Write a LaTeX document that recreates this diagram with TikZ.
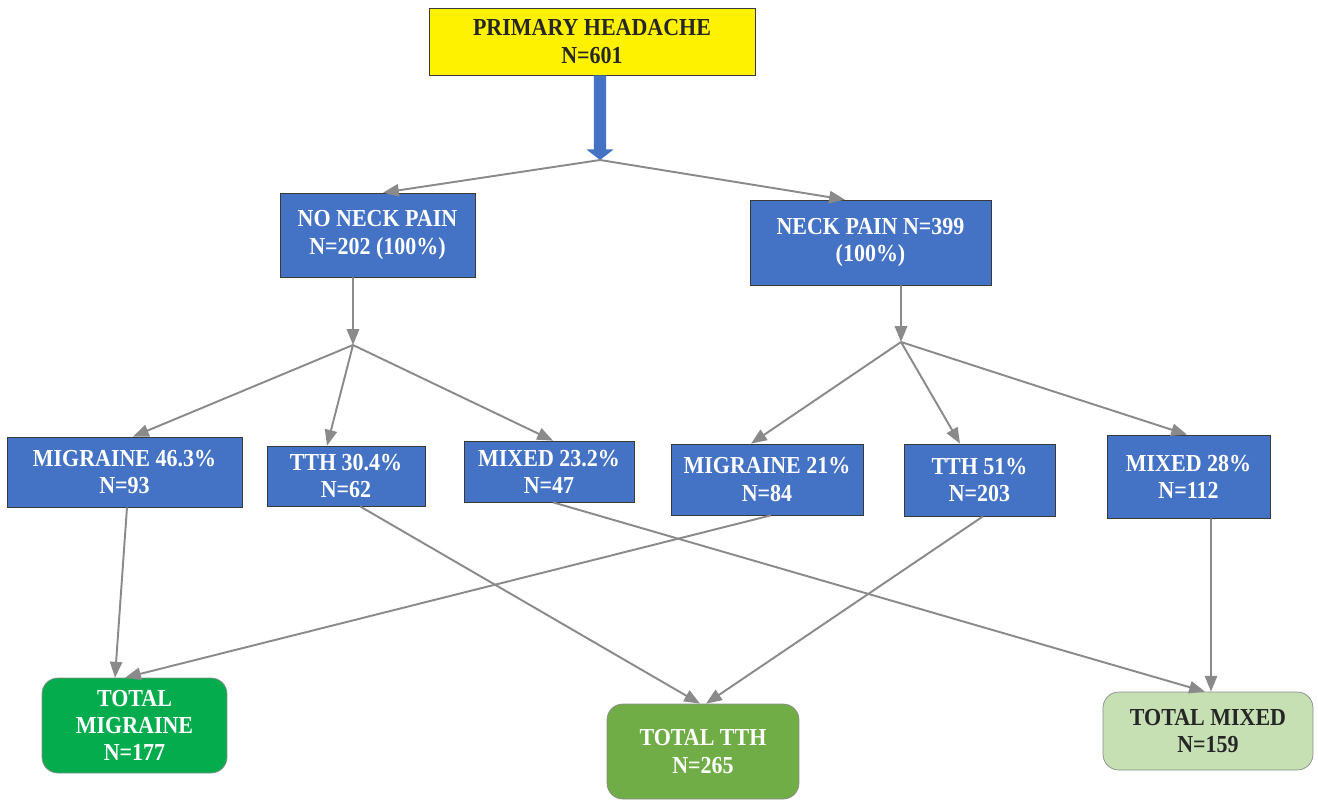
\documentclass[tikz,border=0pt]{standalone}
\usepackage{fontspec}
\setmainfont{Liberation Serif}[FakeStretch=0.9]
\usetikzlibrary{arrows.meta}

\definecolor{boxblue}{HTML}{4472C4}
\definecolor{headyellow}{HTML}{FFF200}
\definecolor{migreen}{HTML}{05AC4E}
\definecolor{tthgreen}{HTML}{70AD47}
\definecolor{mixgreen}{HTML}{C6E0B4}
\definecolor{linkgray}{HTML}{8A8A8A}
\definecolor{edgegray}{HTML}{3A3A3A}

\tikzset{
	box/.style={draw=edgegray,fill=boxblue,text=white,align=center,inner sep=2pt,
		font=\bfseries\fontsize{13.9}{15.4}\selectfont},
	total/.style={box,rounded corners=9pt,draw=linkgray},
	link/.style={linkgray,line width=1.1pt,-{Triangle[length=9pt,width=7pt]}}
}

\begin{document}
\begin{tikzpicture}[x=0.02cm,y=-0.02cm]

	\useasboundingbox (0,0) rectangle (1318,799);

	% top
	\node[box,fill=headyellow,text=black!85,minimum width=6.52cm,minimum height=1.34cm] (primary) at (592,41.5) {PRIMARY HEADACHE\\N=601};

	% neck pain or not
	\node[box,minimum width=3.9cm,minimum height=1.68cm] (nopain) at (377.5,235) {NO NECK PAIN\\N=202 (100\%)};
	\node[box,minimum width=4.82cm,minimum height=1.7cm] (pain) at (870.5,242.5) {NECK PAIN N=399\\(100\%)};

	% sub groups
	\node[box,minimum width=4.7cm,minimum height=1.4cm] (mig1) at (124.5,472) {MIGRAINE 46.3\%\\N=93};
	\node[box,minimum width=3.16cm,minimum height=1.2cm] (tth1) at (346,476) {TTH 30.4\%\\N=62};
	\node[box,minimum width=3.4cm,minimum height=1.22cm] (mix1) at (549,471.5) {MIXED 23.2\%\\N=47};
	\node[box,minimum width=3.84cm,minimum height=1.42cm] (mig2) at (767,479.5) {MIGRAINE 21\%\\N=84};
	\node[box,minimum width=3.02cm,minimum height=1.44cm] (tth2) at (979.5,480) {TTH 51\%\\N=203};
	\node[box,minimum width=3.26cm,minimum height=1.66cm] (mix2) at (1188.5,476.5) {MIXED 28\%\\N=112};

	% totals
	\node[total,fill=migreen,minimum width=3.7cm,minimum height=1.9cm] (totmig) at (134.5,725.5) {TOTAL\\MIGRAINE\\N=177};
	\node[total,fill=tthgreen,minimum width=3.84cm,minimum height=1.9cm] (tottth) at (703,751.5) {TOTAL TTH\\N=265};
	\node[total,fill=mixgreen,text=black!85,minimum width=4.2cm,minimum height=1.56cm] (totmix) at (1208,731) {TOTAL MIXED\\N=159};

	\coordinate (split0) at (600,160);
	\coordinate (split1) at (353,345);
	\coordinate (split2) at (901,342);

	\draw[boxblue,line width=7pt,-{Triangle[length=6pt,width=15pt]}] ([xshift=0.16cm]primary.south) -- (split0);
	\draw[link] (split0) -- ([xshift=0.11cm]nopain.north);
	\draw[link] (split0) -- ([xshift=-0.51cm]pain.north);

	\draw[link] ([xshift=-0.49cm]nopain.south) -- (split1);
	\draw[link] (split1) -- ([xshift=0.17cm]mig1.north);
	\draw[link] (split1) -- ([xshift=-0.38cm]tth1.north);
	\draw[link] (split1) -- ([xshift=0.08cm]mix1.north);

	\draw[link] ([xshift=0.61cm]pain.south) -- (split2);
	\draw[link] (split2) -- ([xshift=-0.32cm]mig2.north);
	\draw[link] (split2) -- ([xshift=-0.39cm]tth2.north);
	\draw[link] (split2) -- ([xshift=-0.03cm]mix2.north);

	% crossing links
	\draw[link] ([xshift=0.05cm]mig1.south) -- ([xshift=-0.39cm]totmig.north);
	\draw[link] ([xshift=0.08cm]mig2.south) -- ([xshift=-0.19cm]totmig.north);
	\draw[link] ([xshift=0.28cm]tth1.south) -- ([xshift=-0.06cm]tottth.north);
	\draw[link] ([xshift=0.07cm]tth2.south) -- ([xshift=0.06cm]tottth.north);
	\draw[link] ([xshift=0.08cm]mix1.south) -- ([xshift=-0.06cm]totmix.north);
	\draw[link] ([xshift=0.45cm]mix2.south) -- ([xshift=0.06cm]totmix.north);

\end{tikzpicture}
\end{document}
